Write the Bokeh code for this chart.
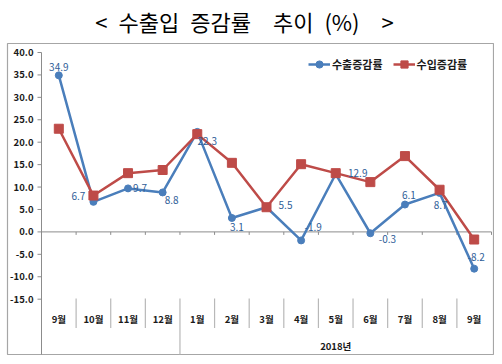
from bokeh.plotting import figure
from bokeh.models import Range1d, ColumnDataSource, Legend, LegendItem
from bokeh.core.properties import value
from bokeh.embed import file_html
from bokeh.resources import INLINE

# ---- data ----
months = ["9월", "10월", "11월", "12월", "1월", "2월", "3월", "4월", "5월", "6월", "7월", "8월", "9월"]
export_rate = [34.9, 6.7, 9.7, 8.8, 22.3, 3.1, 5.5, -1.9, 12.9, -0.3, 6.1, 8.7, -8.2]
import_rate = [23.0, 8.1, 13.1, 13.8, 21.8, 15.4, 5.5, 15.1, 13.1, 11.1, 16.9, 9.4, -1.7]
y_ticks = [40, 35, 30, 25, 20, 15, 10, 5, 0, -5, -10, -15]
group_label = "2018년"
group_start = 4
series_names = ["수출증감률", "수입증감률"]
title_text = "<\u2002수출입\u2002증감률\u2003추이\u2002(%)\u2003>"

# ---- label placement (screen px offsets) ----
label_dx = [0, -15, 12, 9, 10, 5, 19, 12, 22, 17, 4, 1, 2]
label_dy = [-8, -6, 0, 8, 9, 9, -2, -13, -1, 6, -10, 12, -12]

# ---- geometry: canvas px -> data ----
W, H = 494, 356
X0, Y0 = 41.0, 231.4          # canvas px of x=0, y=0
PX_X = 450 / 13.0
PX_Y = 4.485
def cx(px):
    return (px - X0) / PX_X
def cy(py):
    return (Y0 - py) / PX_Y
def dx(px):
    return px / PX_X
def dy(px):
    return px / PX_Y

n = len(months)
xs = [i + 0.5 for i in range(n)]

FONT = "Noto Sans CJK KR"
BLUE = "#4A7EBB"
RED = "#BE4B48"
GRAY = "#8c8c8c"
LGRAY = "#b8b8b8"
BOX = "#a6a6a6"

p = figure(width=W, height=H, output_backend="svg", toolbar_location=None,
           x_range=Range1d(cx(0), cx(W)), y_range=Range1d(cy(H), cy(0)),
           x_axis_location=None, y_axis_location=None,
           min_border_left=0, min_border_right=0, min_border_bottom=0, min_border_top=0)
p.grid.visible = False
p.outline_line_color = None

# chart box
p.quad(left=[cx(7)], right=[cx(493)], top=[cy(43)], bottom=[cy(354)],
       fill_color=None, line_color=BOX, line_width=1.2)

# title
p.text(x=[cx(244)], y=[cy(20)], text=[title_text], text_align="center", text_baseline="middle",
       text_font=value(FONT), text_font_size="22px", text_color="#000000")

ybot = cy(354)

# y axis
p.segment(x0=[0], y0=[ybot], x1=[0], y1=[max(y_ticks)], line_color=GRAY, line_width=1)
p.segment(x0=[-dx(4)] * len(y_ticks), y0=y_ticks, x1=[0] * len(y_ticks), y1=y_ticks,
          line_color=GRAY, line_width=1)
p.text(x=[0] * len(y_ticks), y=y_ticks, text=[f"{v:.1f}" for v in y_ticks],
       x_offset=-8, text_align="right", text_baseline="middle",
       text_font=value(FONT), text_font_size="9.5px", text_font_style="bold", text_color="#1a1a1a")

# category axis at zero
p.segment(x0=[0], y0=[0], x1=[n], y1=[0], line_color=GRAY, line_width=1)
p.segment(x0=list(range(1, n + 1)), y0=[0] * n, x1=list(range(1, n + 1)), y1=[-dy(3)] * n,
          line_color=GRAY, line_width=1)

# category separators
short_k = [k for k in range(1, n) if k != group_start]
p.segment(x0=short_k, y0=[cy(298)] * len(short_k), x1=short_k, y1=[cy(327.4)] * len(short_k),
          line_color=LGRAY, line_width=1.2)
p.segment(x0=[group_start], y0=[cy(298)], x1=[group_start], y1=[ybot],
          line_color=LGRAY, line_width=1.2)

p.text(x=xs, y=[cy(318)] * n, text=months, text_align="center", text_baseline="middle",
       text_font=value(FONT), text_font_size="9.5px", text_font_style="bold", text_color="#1a1a1a")
p.text(x=[(group_start + n) / 2.0], y=[cy(345)], text=[group_label], text_align="center",
       text_baseline="middle", text_font=value(FONT), text_font_size="9.5px",
       text_font_style="bold", text_color="#1a1a1a")

# series
src = ColumnDataSource(dict(x=xs, ex=export_rate, im=import_rate,
                            lab=[f"{v:.1f}" for v in export_rate], ldx=label_dx, ldy=label_dy))
l1 = p.line("x", "ex", source=src, line_color=BLUE, line_width=2.5)
s1 = p.scatter("x", "ex", source=src, marker="circle", size=7, fill_color=BLUE, line_color=BLUE)
l2 = p.line("x", "im", source=src, line_color=RED, line_width=2.5)
s2 = p.scatter("x", "im", source=src, marker="square", size=9, fill_color=RED, line_color=RED)

p.text("x", "ex", text="lab", source=src, x_offset="ldx", y_offset="ldy",
       text_align="center", text_baseline="middle", text_font=value(FONT),
       text_font_size="10px", text_color="#2f5e98")

legend = Legend(items=[LegendItem(label=series_names[0], renderers=[l1, s1]),
                       LegendItem(label=series_names[1], renderers=[l2, s2])],
                orientation="horizontal", location=(308, 283),
                padding=0, margin=0, spacing=10, label_standoff=2,
                glyph_width=22, glyph_height=18, label_height=18,
                label_text_font=FONT, label_text_font_size="11px", label_text_font_style="bold",
                label_text_color="#1a1a1a",
                border_line_color=None, background_fill_alpha=0)
p.add_layout(legend)

open("out.html", "w").write(file_html(p, INLINE))
